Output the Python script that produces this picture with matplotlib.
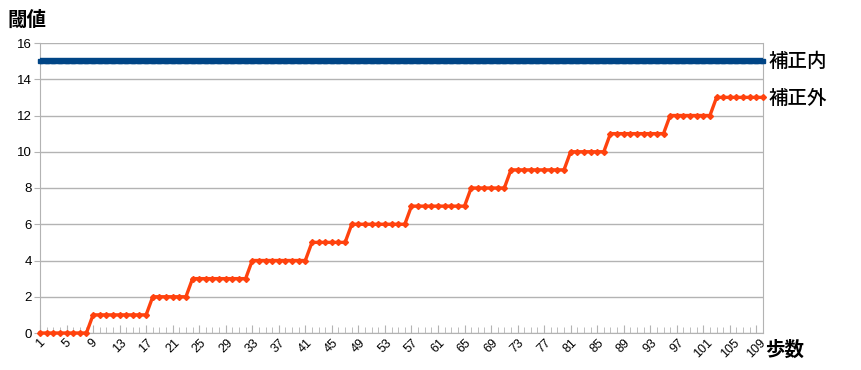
import matplotlib.pyplot as plt
from matplotlib.ticker import MultipleLocator, FixedLocator

plt.rcParams['font.family'] = ['Liberation Sans', 'DejaVu Sans']
jp = ['Noto Sans CJK JP', 'DejaVu Sans']

# steps 1..110
steps = list(range(1, 111))
inner = [15] * 110
# run lengths of each threshold level for the outer series
level_runs = [8, 9, 6, 9, 9, 6, 9, 9, 6, 9, 6, 9, 7, 8]
outer = []
for lv, n in enumerate(level_runs):
    outer += [lv] * n

tick_labels = list(range(1, 111, 4))

fig = plt.figure(figsize=(8.61, 3.70), dpi=100)
ax = fig.add_axes([40 / 861, 37 / 370, 723 / 861, 290 / 370])

grid_c = '#b3b3b3'
ax.plot(steps, inner, color='#004586', lw=4.6, marker='s', ms=3.5,
        solid_capstyle='butt', zorder=3, clip_on=False)
ax.plot(steps, outer, color='#ff420e', lw=2.4, marker='D', ms=3,
        zorder=4, clip_on=False)

ax.set_xlim(1, 110)
ax.set_ylim(0, 16)
ax.yaxis.set_major_locator(MultipleLocator(2))
ax.xaxis.set_major_locator(FixedLocator(tick_labels))
ax.xaxis.set_minor_locator(MultipleLocator(1))
ax.set_xticklabels([str(t) for t in tick_labels], rotation=45, fontsize=9)
ax.tick_params(axis='x', which='major', direction='in', length=6,
               color=grid_c, pad=3)
ax.tick_params(axis='x', which='minor', direction='in', length=4,
               color=grid_c)
ax.tick_params(axis='y', direction='out', length=4, color=grid_c,
               labelsize=9.5, pad=2)
ax.grid(axis='y', color=grid_c, lw=1)
ax.set_axisbelow(True)
for s in ['left', 'bottom', 'right']:
    ax.spines[s].set_color(grid_c)
ax.spines['top'].set_visible(False)

fig.text(7 / 861, 1 - 20 / 370, '閾値', family=jp, fontsize=14,
         fontweight='bold', va='center', ha='left')
fig.text(765 / 861, 1 - 350 / 370, '歩数', family=jp, fontsize=14,
         fontweight='bold', va='center', ha='left')
fig.text(769 / 861, 1 - 61 / 370, '補正内', family=jp, fontsize=14,
         fontweight='medium', va='center', ha='left')
fig.text(769 / 861, 1 - 98 / 370, '補正外', family=jp, fontsize=14,
         fontweight='medium', va='center', ha='left')

fig.savefig('out.png', dpi=100)
